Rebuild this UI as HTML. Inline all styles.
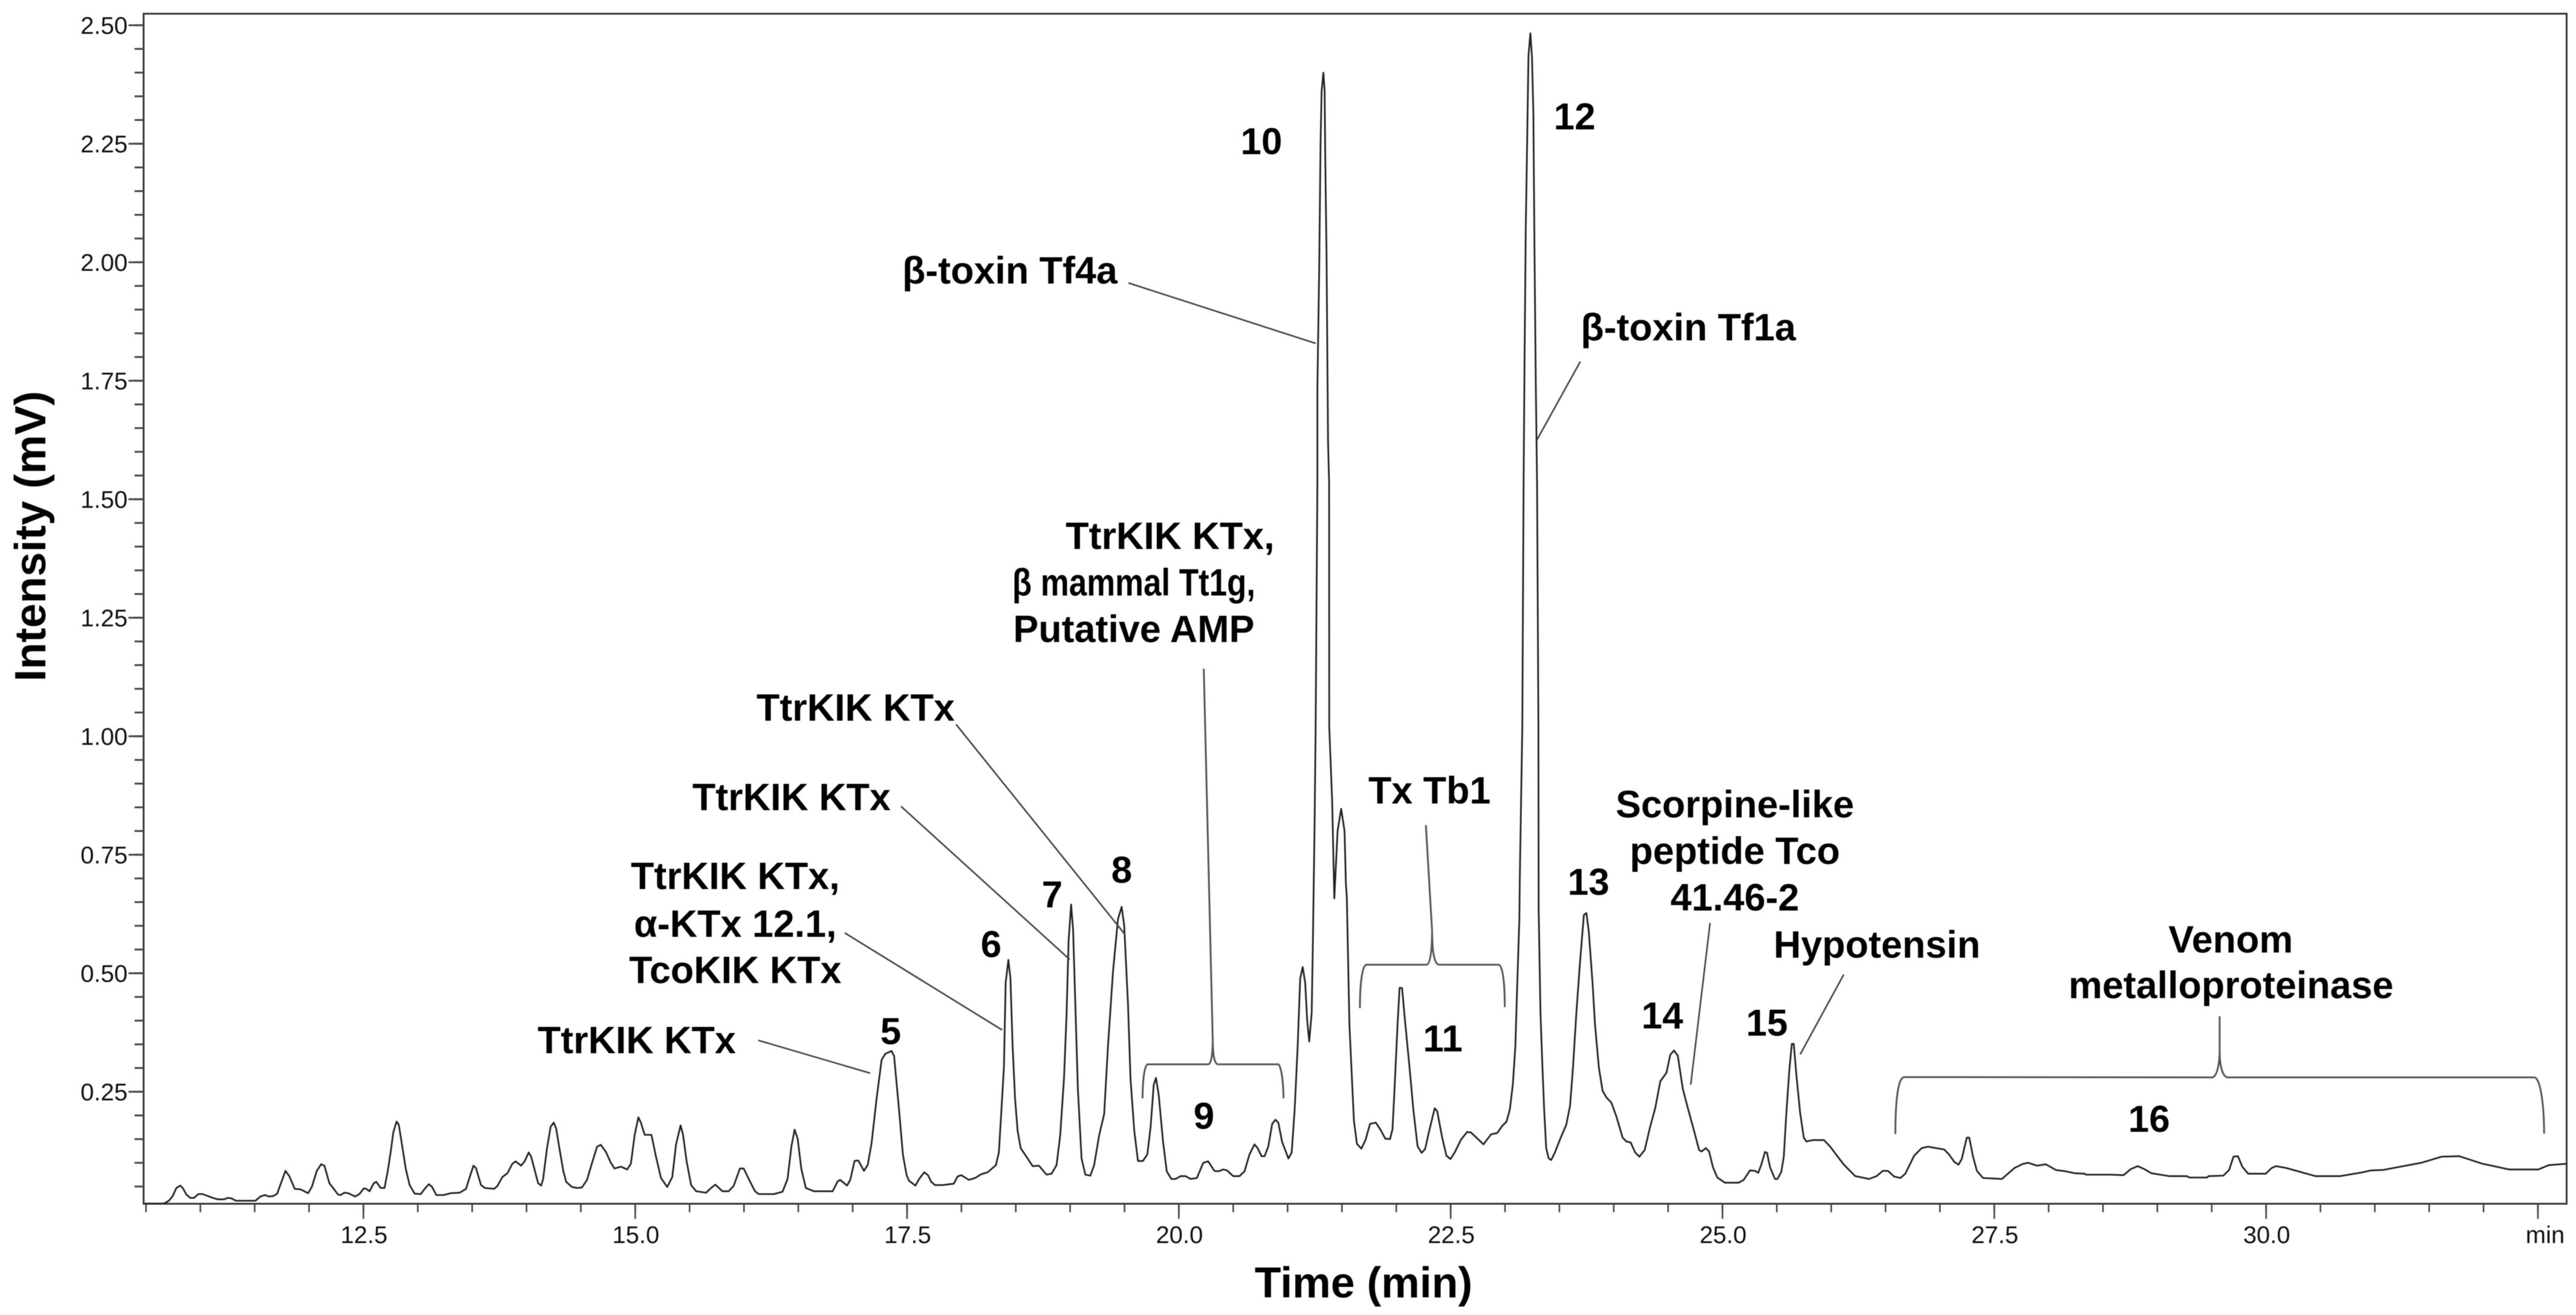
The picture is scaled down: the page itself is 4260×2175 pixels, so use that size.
<!DOCTYPE html>
<html lang="en">
<head>
<meta charset="utf-8">
<title>Venom chromatogram</title>
<style>
html,body{margin:0;padding:0;background:#fff;}
svg{display:block;filter:blur(0.6px);}
text{font-family:"Liberation Sans",Arial,sans-serif;}
.tick-label{font-size:40px;fill:#111;}
.annotation{font-size:62.8px;font-weight:700;fill:#000;text-anchor:middle;}
.peak-number{font-size:62px;font-weight:700;fill:#000;text-anchor:middle;}
.axis-title{font-weight:700;fill:#000;text-anchor:middle;}
.leader{fill:none;stroke:#444;stroke-width:2.6;}
.brace{fill:none;stroke:#555;stroke-width:3;}
</style>
</head>
<body>
<svg id="chart" xmlns="http://www.w3.org/2000/svg" width="4260" height="2175" viewBox="0 0 4260 2175">
  <rect x="0" y="0" width="4260" height="2175" fill="#fff"/>
  <rect id="frame" fill="none" stroke="#333" stroke-width="3"/>
  <g id="y-ticks"></g>
  <g id="x-ticks"></g>
  <path id="trace" fill="none" stroke="#222" stroke-width="2.8" stroke-linejoin="round"/>

  <text class="axis-title" x="2255" y="2146" font-size="71.5">Time (min)</text>
  <text class="axis-title" transform="translate(75 887) rotate(-90)" font-size="72.7">Intensity (mV)</text>

  <text class="annotation" x="1053" y="1742">TtrKIK KTx</text>
  <line class="leader" x1="1254" y1="1720.7" x2="1439" y2="1775"/>
  <g>
    <text class="annotation" x="1216" y="1470.5">TtrKIK KTx,</text>
    <text class="annotation" x="1216" y="1549.5">α-KTx 12.1,</text>
    <text class="annotation" x="1216" y="1626">TcoKIK KTx</text>
  </g>
  <line class="leader" x1="1397" y1="1543" x2="1657.5" y2="1703.7"/>
  <text class="annotation" x="1309" y="1340">TtrKIK KTx</text>
  <line class="leader" x1="1490" y1="1333.7" x2="1769" y2="1587"/>
  <text class="annotation" x="1415" y="1192">TtrKIK KTx</text>
  <line class="leader" x1="1581" y1="1198" x2="1860" y2="1545"/>
  <g>
    <text class="annotation" x="1935" y="908">TtrKIK KTx,</text>
    <text class="annotation" x="1875" y="985" textLength="402" lengthAdjust="spacingAndGlyphs">β mammal Tt1g,</text>
    <text class="annotation" x="1875" y="1062">Putative AMP</text>
  </g>
  <path class="brace" d="M1889.5 1816.5 C1889.5 1790 1892 1765 1897.4 1760.4 L1998 1760.4 C2003 1760 2005 1745 2005.6 1723.6 L1990.7 1106 M2005.6 1723.6 C2006 1745 2008 1760 2014.7 1760.4 L2114.2 1760.4 C2119 1765 2122.5 1790 2122.5 1816.5"/>
  <text class="annotation" x="1670" y="469">β-toxin Tf4a</text>
  <line class="leader" x1="1866" y1="468" x2="2176" y2="568"/>
  <text class="annotation" x="2364" y="1329">Tx Tb1</text>
  <path class="brace" d="M2248.9 1667.5 C2249 1625 2253 1596 2259.7 1595.6 L2359.2 1595.6 C2365 1595 2368 1575 2368.3 1540 L2358 1364.8 M2368.3 1540 C2368.5 1575 2372 1595 2379.9 1595.6 L2478 1595.6 C2485 1596 2488.5 1625 2488.5 1665.7"/>
  <text class="annotation" x="2792" y="563">β-toxin Tf1a</text>
  <line class="leader" x1="2613.4" y1="598" x2="2542" y2="727"/>
  <g>
    <text class="annotation" x="2869" y="1352">Scorpine-like</text>
    <text class="annotation" x="2869" y="1429">peptide Tco</text>
    <text class="annotation" x="2869" y="1506">41.46-2</text>
  </g>
  <line class="leader" x1="2828" y1="1526.5" x2="2796" y2="1794"/>
  <text class="annotation" x="3104" y="1584">Hypotensin</text>
  <line class="leader" x1="3049" y1="1612" x2="2977" y2="1744"/>
  <g>
    <text class="annotation" x="3689" y="1575.5">Venom</text>
    <text class="annotation" x="3689.5" y="1651">metalloproteinase</text>
  </g>
  <path class="brace" d="M3134.4 1875.7 C3134.5 1820 3139 1782 3148.9 1781.5 L3658 1782 C3665 1782 3670 1765 3670.7 1740 L3670.7 1681 M3670.7 1740 C3671 1765 3676 1782 3684.7 1782 L4191 1782 C4200 1782 4207 1820 4207.3 1875"/>

  <text class="peak-number" x="1473" y="1727">5</text>
  <text class="peak-number" x="1639" y="1583">6</text>
  <text class="peak-number" x="1740" y="1501">7</text>
  <text class="peak-number" x="1855" y="1460">8</text>
  <text class="peak-number" x="1991" y="1867">9</text>
  <text class="peak-number" x="2086" y="255">10</text>
  <text class="peak-number" x="2386" y="1739">11</text>
  <text class="peak-number" x="2604" y="214">12</text>
  <text class="peak-number" x="2627" y="1480">13</text>
  <text class="peak-number" x="2749" y="1701">14</text>
  <text class="peak-number" x="2922" y="1713">15</text>
  <text class="peak-number" x="3554" y="1872">16</text>
</svg>

<script>
const retentionTimes = [
10.49,10.665,10.711,10.746,10.78,10.815,10.838,10.872,10.907,10.942,
10.981,11.022,11.068,11.115,11.161,11.218,11.253,11.287,11.327,11.507,
11.553,11.594,11.633,11.673,11.707,11.749,11.783,11.818,11.869,11.922,
11.991,12.025,12.071,12.111,12.141,12.187,12.221,12.267,12.29,12.325,
12.36,12.424,12.463,12.503,12.526,12.556,12.595,12.618,12.659,12.694,
12.724,12.752,12.775,12.805,12.825,12.855,12.89,12.925,12.971,13.028,
13.063,13.102,13.132,13.171,13.236,13.305,13.386,13.443,13.478,13.512,
13.535,13.582,13.616,13.702,13.732,13.778,13.824,13.87,13.9,13.951,
13.985,14.02,14.043,14.107,14.135,14.153,14.188,14.222,14.25,14.273,
14.303,14.338,14.365,14.418,14.464,14.51,14.557,14.603,14.649,14.683,
14.73,14.776,14.81,14.868,14.926,14.96,14.995,15.029,15.052,15.087,
15.149,15.191,15.237,15.294,15.341,15.375,15.417,15.44,15.472,15.514,
15.56,15.652,15.698,15.737,15.802,15.859,15.905,15.963,15.998,16.044,
16.101,16.136,16.274,16.355,16.401,16.436,16.466,16.494,16.528,16.569,
16.643,16.816,16.862,16.885,16.948,16.978,17.017,17.051,17.104,17.139,
17.174,17.22,17.266,17.3,17.358,17.381,17.427,17.462,17.496,17.519,
17.577,17.612,17.658,17.693,17.722,17.757,17.826,17.93,17.964,17.999,
18.068,18.126,18.183,18.241,18.317,18.345,18.368,18.391,18.407,18.432,
18.451,18.471,18.494,18.517,18.545,18.598,18.656,18.713,18.783,18.829,
18.875,18.909,18.944,18.967,18.986,19.009,19.027,19.048,19.071,19.105,
19.14,19.186,19.221,19.267,19.313,19.348,19.394,19.44,19.474,19.497,
19.532,19.555,19.59,19.624,19.67,19.71,19.74,19.769,19.79,19.815,
19.855,19.889,19.931,19.97,20.016,20.062,20.108,20.166,20.224,20.27,
20.327,20.362,20.408,20.443,20.5,20.558,20.604,20.65,20.696,20.724,
20.761,20.789,20.823,20.858,20.888,20.915,20.95,21.008,21.038,21.065,
21.093,21.116,21.139,21.162,21.181,21.199,21.222,21.233,21.249,21.258,
21.274,21.274,21.291,21.303,21.313,21.329,21.341,21.346,21.359,21.372,
21.382,21.383,21.41,21.43,21.46,21.493,21.524,21.536,21.545,21.569,
21.592,21.61,21.638,21.679,21.718,21.758,21.811,21.857,21.898,21.942,
21.965,21.984,22.011,22.03,22.053,22.08,22.122,22.157,22.196,22.233,
22.265,22.302,22.353,22.376,22.422,22.461,22.498,22.537,22.595,22.652,
22.687,22.802,22.871,22.929,22.975,23.014,23.044,23.072,23.095,23.113,
23.132,23.136,23.159,23.171,23.179,23.191,23.203,23.216,23.233,23.248,
23.261,23.271,23.283,23.295,23.307,23.309,23.326,23.344,23.36,23.379,
23.402,23.425,23.459,23.505,23.563,23.598,23.625,23.655,23.69,23.725,
23.748,23.771,23.805,23.828,23.863,23.897,23.932,23.978,24.024,24.082,
24.116,24.156,24.197,24.236,24.285,24.335,24.382,24.428,24.485,24.52,
24.554,24.589,24.635,24.681,24.739,24.785,24.808,24.847,24.877,24.912,
24.953,25.022,25.149,25.195,25.253,25.299,25.329,25.357,25.391,25.41,
25.437,25.483,25.506,25.541,25.564,25.587,25.615,25.638,25.656,25.679,
25.714,25.748,25.772,25.829,25.933,25.991,26.06,26.117,26.221,26.348,
26.417,26.475,26.521,26.579,26.636,26.682,26.763,26.832,26.89,27.04,
27.086,27.132,27.171,27.201,27.247,27.27,27.305,27.34,27.397,27.57,
27.685,27.766,27.812,27.893,27.974,28.066,28.158,28.239,28.331,28.343,
28.568,28.689,28.757,28.819,28.878,28.945,29.107,29.269,29.296,29.458,
29.471,29.606,29.66,29.7,29.741,29.781,29.835,29.997,30.051,30.091,
30.186,30.455,30.684,30.887,30.968,31.075,31.426,31.615,31.776,31.992,
32.235,32.504,32.599,32.761
];
const intensities = [
.014,.014,.020,.030,.047,.052,.047,.033,.026,.026,
.034,.034,.030,.026,.023,.023,.026,.025,.020,.020,
.029,.032,.029,.030,.035,.062,.083,.072,.045,.044,
.036,.049,.083,.097,.094,.057,.047,.033,.032,.037,
.036,.029,.034,.046,.045,.040,.057,.060,.047,.047,
.083,.125,.164,.187,.181,.138,.087,.053,.035,.034,
.045,.055,.049,.032,.032,.036,.037,.045,.070,.094,
.089,.053,.047,.045,.051,.070,.078,.098,.103,.094,
.104,.122,.113,.057,.052,.066,.130,.176,.185,.172,
.130,.083,.060,.049,.047,.048,.064,.100,.134,.138,
.123,.100,.088,.092,.086,.098,.159,.196,.185,.159,
.159,.113,.068,.049,.070,.138,.179,.159,.104,.053,
.040,.037,.047,.054,.040,.040,.051,.088,.088,.066,
.040,.034,.034,.039,.066,.134,.170,.151,.087,.047,
.040,.040,.061,.064,.052,.064,.104,.105,.083,.096,
.142,.236,.317,.330,.336,.325,.210,.117,.074,.062,
.052,.066,.080,.074,.060,.053,.053,.056,.071,.074,
.064,.068,.076,.080,.095,.122,.212,.301,.480,.528,
.489,.346,.234,.167,.131,.113,.093,.094,.075,.077,
.095,.158,.279,.413,.569,.645,.592,.435,.256,.109,
.075,.073,.095,.158,.203,.346,.502,.614,.640,.601,
.435,.279,.167,.104,.104,.118,.176,.265,.279,.243,
.144,.082,.066,.066,.072,.072,.066,.068,.100,.103,
.083,.082,.086,.084,.072,.072,.082,.118,.139,.131,
.114,.114,.135,.182,.191,.185,.144,.109,.122,.212,
.346,.489,.513,.480,.399,.356,.417,.570,.825,1.02,
1.533,1.733,1.987,2.247,2.361,2.400,2.361,2.234,2.007,1.623,
1.533,1.02,.864,.658,.80,.847,.80,.690,.659,.390,
.279,.189,.140,.130,.149,.182,.185,.169,.151,.150,
.171,.256,.390,.469,.469,.400,.301,.212,.135,.121,
.129,.167,.215,.209,.153,.115,.108,.122,.149,.165,
.164,.139,.160,.163,.178,.187,.212,.265,.346,.480,
.614,.704,1.022,1.533,1.779,2.072,2.247,2.436,2.483,2.433,
2.312,2.029,1.74,1.533,1.022,.637,.417,.301,.212,.131,
.109,.106,.122,.149,.180,.220,.301,.413,.525,.623,
.627,.587,.480,.390,.301,.252,.238,.227,.198,.153,
.145,.143,.122,.113,.127,.176,.216,.272,.290,.328,
.337,.326,.256,.216,.167,.127,.124,.131,.124,.091,
.069,.058,.058,.064,.084,.083,.079,.096,.123,.121,
.091,.066,.066,.081,.113,.202,.296,.351,.351,.287,
.206,.153,.145,.148,.148,.134,.113,.096,.072,.066,
.072,.083,.083,.071,.068,.077,.115,.131,.134,.128,
.117,.102,.096,.108,.153,.153,.113,.083,.068,.066,
.089,.098,.100,.094,.097,.085,.082,.078,.077,.075,
.075,.074,.087,.093,.087,.078,.072,.072,.069,.069,
.072,.073,.085,.113,.114,.092,.077,.077,.089,.093,
.089,.072,.072,.080,.084,.085,.100,.113,.114,.098,
.086,.086,.095,.098
];
const yTickLabels = ["0.25","0.50","0.75","1.00","1.25","1.50","1.75","2.00","2.25","2.50"];
const xTickLabels = ["12.5","15.0","17.5","20.0","22.5","25.0","27.5","30.0"];
const xMinorStep = 0.5;
const yMinorStep = 0.05;

const NS = "http://www.w3.org/2000/svg";
const plot = { left: 237.5, right: 4244.5, top: 22.7, bottom: 1991 };

function xScale(t) { return 601 + (t - 12.5) * 179.8; }
function yScale(v) { return 41.7 + (2.5 - v) * 784; }

function makeLine(parent, x1, y1, x2, y2, width) {
  const el = document.createElementNS(NS, "line");
  el.setAttribute("x1", x1);
  el.setAttribute("y1", y1);
  el.setAttribute("x2", x2);
  el.setAttribute("y2", y2);
  el.setAttribute("stroke", "#444");
  el.setAttribute("stroke-width", width);
  parent.appendChild(el);
  return el;
}
function makeLabel(parent, x, y, anchor, str) {
  const el = document.createElementNS(NS, "text");
  el.setAttribute("class", "tick-label");
  el.setAttribute("x", x);
  el.setAttribute("y", y);
  el.setAttribute("text-anchor", anchor);
  el.textContent = str;
  parent.appendChild(el);
  return el;
}

const frame = document.getElementById("frame");
frame.setAttribute("x", plot.left);
frame.setAttribute("y", plot.top);
frame.setAttribute("width", plot.right - plot.left);
frame.setAttribute("height", plot.bottom - plot.top);

const yGroup = document.getElementById("y-ticks");
const yMax = parseFloat(yTickLabels[yTickLabels.length - 1]);
for (let i = 1; i * yMinorStep <= yMax + 1e-6; i++) {
  const v = i * yMinorStep;
  const tick = makeLine(yGroup, plot.left - 15, yScale(v), plot.left, yScale(v), 3);
  
  
}
yTickLabels.forEach(function (lab) {
  const v = parseFloat(lab);
  const tick = makeLine(yGroup, plot.left - 25, yScale(v), plot.left, yScale(v), 3);
  
  
  const text = makeLabel(yGroup, 211, yScale(v) + 14.3, "end", lab);
  
  
});

const xGroup = document.getElementById("x-ticks");
for (let t = 10.5; t <= 32.5 + 1e-6; t += xMinorStep) {
  const tick = makeLine(xGroup, xScale(t), plot.bottom, xScale(t), plot.bottom + 14, 2.6);
  
  
}
xTickLabels.forEach(function (lab) {
  const t = parseFloat(lab);
  const tick = makeLine(xGroup, xScale(t), plot.bottom, xScale(t), plot.bottom + 25, 2.6);
  
  
  const text = makeLabel(xGroup, xScale(t) + 1, 2056, "middle", lab);
  
  
});
const endTick = makeLine(xGroup, xScale(32.5), plot.bottom, xScale(32.5), plot.bottom + 25, 2.6);


const minLabel = makeLabel(xGroup, 4209, 2056, "middle", "min");



const n = Math.min(retentionTimes.length, intensities.length);
let d = "";
for (let i = 0; i < n; i++) {
  d += (i ? "L" : "M") + xScale(retentionTimes[i]).toFixed(1) + " " + yScale(intensities[i]).toFixed(1);
}
document.getElementById("trace").setAttribute("d", d);
</script>
</body>
</html>
